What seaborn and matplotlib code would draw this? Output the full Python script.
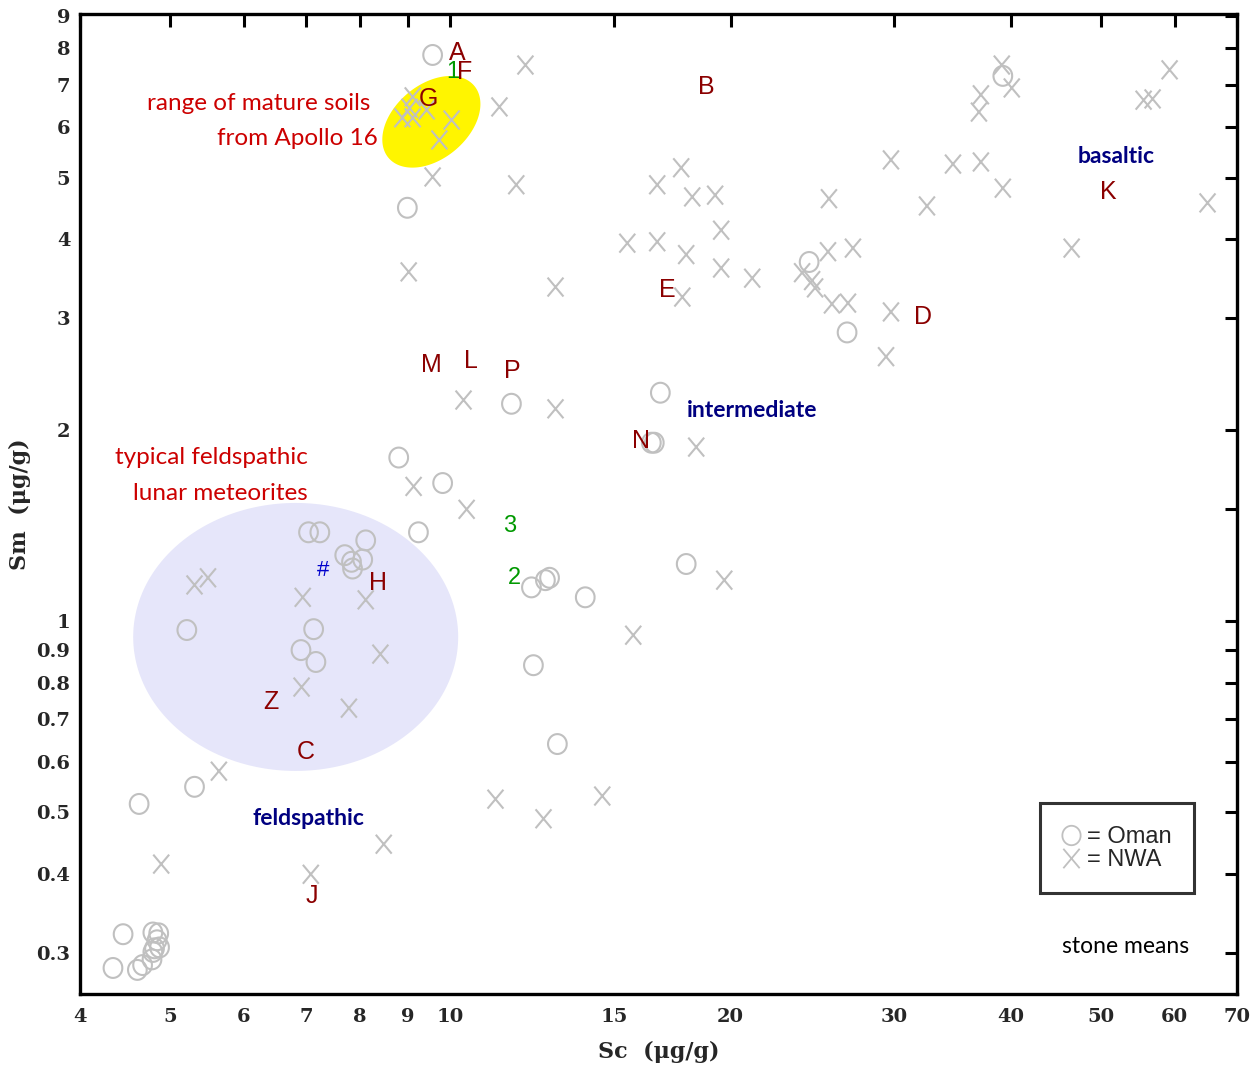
import numpy as np
import pandas as pd
import matplotlib
matplotlib.use("Agg")
import matplotlib.pyplot as plt
import seaborn as sns
from matplotlib.path import Path
from matplotlib.lines import Line2D
from matplotlib.ticker import FixedLocator, FixedFormatter, NullLocator

# === stone means: Oman (O) ===
oman_sc = [9.57, 8.99, 39.22, 24.29, 26.68, 16.81, 11.63, 16.44, 16.56, 8.80,
           9.81, 9.24, 7.04, 7.24, 8.11, 7.70, 8.05, 7.83, 7.85, 17.92,
           12.22, 12.65, 12.78, 13.96, 5.21, 7.13, 6.91, 7.17, 12.28, 13.03,
           5.31, 4.63, 4.45, 4.79, 4.86, 4.84, 4.81, 4.87, 4.79, 4.78,
           4.67, 4.61, 4.34]
oman_sm = [7.80, 4.48, 7.23, 3.68, 2.85, 2.29, 2.20, 1.91, 1.91, 1.81,
           1.65, 1.38, 1.38, 1.38, 1.34, 1.27, 1.25, 1.24, 1.21, 1.23,
           1.13, 1.16, 1.17, 1.09, 0.968, 0.971, 0.900, 0.862, 0.852, 0.640,
           0.548, 0.515, 0.321, 0.323, 0.322, 0.314, 0.305, 0.306, 0.301, 0.293,
           0.287, 0.282, 0.284]

# === stone means: NWA (X) ===
nwa_sc = [12.04, 9.11, 9.04, 9.43, 8.88, 9.11, 10.03, 9.73, 11.29, 9.57,
          11.77, 9.02, 12.97, 17.70, 16.68, 18.19, 19.25, 19.54, 15.49, 16.68,
          17.92, 19.54, 21.10, 23.87, 24.47, 24.65, 17.75, 39.12, 40.10, 37.15,
          36.97, 59.25, 55.56, 56.81, 29.74, 34.67, 37.15, 39.22, 25.51, 32.51,
          65.08, 46.50, 25.45, 27.07, 25.70, 26.74, 29.74, 29.38, 10.33, 12.97,
          18.37, 9.13, 10.41, 19.69, 15.72, 5.31, 5.49, 6.94, 8.11, 8.41,
          6.92, 7.78, 5.64, 8.48, 4.89, 7.08, 11.18, 12.59, 14.56]
nwa_sm = [7.52, 6.70, 6.43, 6.39, 6.21, 6.21, 6.16, 5.73, 6.46, 5.01,
          4.87, 3.55, 3.36, 5.18, 4.87, 4.66, 4.69, 4.13, 3.94, 3.96,
          3.78, 3.60, 3.47, 3.54, 3.44, 3.35, 3.24, 7.52, 6.92, 6.75,
          6.34, 7.39, 6.62, 6.65, 5.33, 5.25, 5.29, 4.81, 4.63, 4.51,
          4.56, 3.87, 3.82, 3.87, 3.16, 3.17, 3.07, 2.61, 2.23, 2.16,
          1.88, 1.63, 1.50, 1.16, 0.950, 1.14, 1.17, 1.09, 1.08, 0.887,
          0.787, 0.729, 0.580, 0.445, 0.414, 0.399, 0.524, 0.488, 0.530]

# === lettered meteorites ===
letter_text = ["A", "F", "G", "B", "E", "D", "K", "M", "L", "P", "N", "H", "Z", "C", "J"]
letter_sc = [10.18, 10.35, 9.47, 18.83, 17.10, 32.19, 50.96, 9.54, 10.53, 11.66,
             16.04, 8.35, 6.41, 6.99, 7.10]
letter_sm = [7.86, 7.33, 6.65, 6.94, 3.32, 3.01, 4.75, 2.53, 2.57, 2.48,
             1.92, 1.15, 0.745, 0.622, 0.369]

number_text = ["1", "3", "2"]
number_sc = [10.05, 11.57, 11.72]
number_sm = [7.33, 1.41, 1.17]

hash_sc, hash_sm = 7.29, 1.20

region_text = ["basaltic", "intermediate", "feldspathic"]
region_sc = [51.97, 21.10, 7.03]
region_sm = [5.39, 2.15, 0.489]

x_ticks = [4, 5, 6, 7, 8, 9, 10, 15, 20, 30, 40, 50, 60, 70]
y_ticks = [0.3, 0.4, 0.5, 0.6, 0.7, 0.8, 0.9, 1, 1.5, 2, 3, 4, 5, 6, 7, 8, 9]
y_tick_labels = ["0.3", "0.4", "0.5", "0.6", "0.7", "0.8", "0.9", "1", "",
                 "2", "3", "4", "5", "6", "7", "8", "9"]

df = pd.concat([
    pd.DataFrame({"Sc": oman_sc, "Sm": oman_sm, "site": "Oman"}),
    pd.DataFrame({"Sc": nwa_sc, "Sm": nwa_sm, "site": "NWA"}),
])

sns.set_style("white")
plt.rcParams["font.family"] = ["Liberation Sans", "DejaVu Sans"]

GRAY = "#c0c0c0"
MAROON = "#8b0000"

fig = plt.figure(figsize=(12.6, 10.69), dpi=100)
ax = fig.add_axes([80 / 1260, 75 / 1069, 1157 / 1260, 980 / 1069])
ax.set_xscale("log")
ax.set_yscale("log")
ax.set_xlim(4, 70)
ax.set_ylim(0.2584, 9.05)


def ellipse_pts(ax, sc, sm, a_px, b_px, angle_deg):
    # ellipse drawn in screen space, mapped back to data coords
    cx, cy = ax.transData.transform((sc, sm))
    t = np.linspace(0, 2 * np.pi, 240)
    th = np.deg2rad(angle_deg)
    px = cx + a_px * np.cos(t) * np.cos(th) - b_px * np.sin(t) * np.sin(th)
    py = cy + a_px * np.cos(t) * np.sin(th) + b_px * np.sin(t) * np.cos(th)
    return ax.transData.inverted().transform(np.column_stack([px, py]))


blue = ellipse_pts(ax, 6.82, 0.944, 162.5, 134, 0)
ax.fill(blue[:, 0], blue[:, 1], color="#e6e6fa", lw=0, zorder=1)
yel = ellipse_pts(ax, 9.54, 6.12, 56, 37, 40)
ax.fill(yel[:, 0], yel[:, 1], color="#fff500", lw=0, zorder=1)

# marker shapes: thin letter-like O and X
t = np.linspace(0, 2 * np.pi, 60)
o_marker = Path(np.column_stack([0.47 * np.cos(t), 0.5 * np.sin(t)]))
x_marker = Path([(-0.42, -0.5), (0.42, 0.5), (-0.42, 0.5), (0.42, -0.5)],
                [Path.MOVETO, Path.LINETO, Path.MOVETO, Path.LINETO])

sns.scatterplot(data=df[df.site == "Oman"], x="Sc", y="Sm", ax=ax, marker=o_marker,
                s=205, color=GRAY, facecolor="none", edgecolor=GRAY,
                linewidth=1.5, zorder=3, legend=False)
sns.scatterplot(data=df[df.site == "NWA"], x="Sc", y="Sm", ax=ax, marker=x_marker,
                s=185, color=GRAY, facecolor="none", edgecolor=GRAY,
                linewidth=1.5, zorder=3, legend=False)

# === labels ===
for s, xv, yv in zip(letter_text, letter_sc, letter_sm):
    ax.text(xv, yv, s, color=MAROON, fontsize=18, ha="center", va="center", zorder=4)
for s, xv, yv in zip(number_text, number_sc, number_sm):
    ax.text(xv, yv, s, color="#009900", fontsize=17, ha="center", va="center", zorder=4)
ax.text(hash_sc, hash_sm, "#", color="#0000cc", fontsize=16, ha="center", va="center", zorder=4)

for s, xv, yv in zip(region_text, region_sc, region_sm):
    ax.text(xv, yv, s, color="#000080", fontsize=16.5, ha="center", va="center",
            family="Lato", weight="bold", zorder=4)

note = dict(color="#cc0000", fontsize=17.5, ha="right", va="center", family="Lato", zorder=4)
ax.text(8.21, 6.53, "range of mature soils", **note)
ax.text(8.35, 5.75, "from Apollo 16", **note)
ax.text(7.03, 1.81, "typical feldspathic", **note)
ax.text(7.03, 1.59, "lunar meteorites", **note)

ax.text(0.959, 0.048, "stone means", transform=ax.transAxes, ha="right", va="center",
        fontsize=16.5, family="Lato", color="black")

# === legend ===
handles = [Line2D([], [], ls="none", marker=o_marker, ms=14, mfc="none", mec=GRAY, mew=1.3),
           Line2D([], [], ls="none", marker=x_marker, ms=14, mfc="none", mec=GRAY, mew=1.3)]
leg = ax.legend(handles, ["= Oman", "= NWA"], loc="center", bbox_to_anchor=(0.8963, 0.1485),
                fontsize=17, frameon=True, fancybox=False, edgecolor="black",
                borderpad=0.95, handlelength=0.7, handletextpad=0.3, labelspacing=0.05,
                borderaxespad=0)
leg.get_frame().set_linewidth(2.2)
leg.set_zorder(5)

# === axes ===
ax.xaxis.set_major_locator(FixedLocator(x_ticks))
ax.xaxis.set_major_formatter(FixedFormatter([str(v) for v in x_ticks]))
ax.xaxis.set_minor_locator(NullLocator())
ax.yaxis.set_major_locator(FixedLocator(y_ticks))
ax.yaxis.set_major_formatter(FixedFormatter(y_tick_labels))
ax.yaxis.set_minor_locator(NullLocator())
ax.tick_params(which="major", direction="in", length=9, width=2.2, color="black",
               top=True, right=True, labelsize=14, pad=7)
ax.tick_params(axis="x", pad=10)
for lab in ax.get_xticklabels() + ax.get_yticklabels():
    lab.set_family("DejaVu Serif")
    lab.set_weight("bold")
for sp in ax.spines.values():
    sp.set_linewidth(2.4)
    sp.set_color("black")

ax.set_xlabel("Sc  (μg/g)", family="DejaVu Serif", weight="bold", fontsize=16)
ax.set_ylabel("Sm  (μg/g)", family="DejaVu Serif", weight="bold", fontsize=16)
ax.xaxis.set_label_coords(0.5, -0.048)
ax.yaxis.set_label_coords(-0.042, 0.5)
ax.grid(False)

plt.savefig("out.png", dpi=100)
